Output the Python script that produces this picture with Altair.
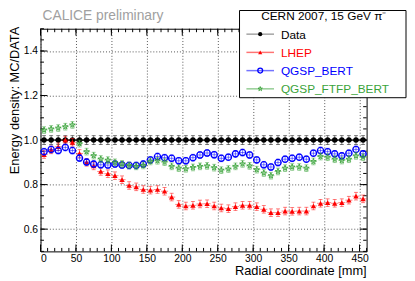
import altair as alt
import pandas as pd

FONT = "Liberation Sans"
W, H = 331, 226
X_DOM = [0, 460]
Y_DOM = [0.5, 1.5]

# ---------------- data ----------------
radius = [5, 15, 25, 35, 45, 55, 65, 75, 85, 95, 105, 115, 125, 135, 145, 155,
          165, 175, 185, 195, 205, 215, 225, 235, 245, 255, 265, 275, 285, 295,
          305, 315, 325, 335, 345, 355, 365, 375, 385, 395, 405, 415, 425, 435,
          445, 455]

data_ratio = [1.0] * 46

lhep = [0.935, 0.956, 0.970, 1.000, 0.990, 0.940, 0.900, 0.884, 0.859, 0.849,
        0.840, 0.822, 0.796, 0.790, 0.778, 0.775, 0.778, 0.770, 0.744, 0.711,
        0.704, 0.707, 0.713, 0.714, 0.704, 0.695, 0.692, 0.701, 0.707, 0.707,
        0.701, 0.689, 0.674, 0.674, 0.681, 0.680, 0.681, 0.681, 0.704, 0.716,
        0.719, 0.716, 0.719, 0.730, 0.748, 0.736]

qgsp_bert = [0.948, 0.958, 0.953, 0.967, 0.953, 0.919, 0.901, 0.892, 0.889, 0.888,
             0.892, 0.888, 0.886, 0.886, 0.892, 0.911, 0.926, 0.921, 0.918, 0.907,
             0.907, 0.921, 0.933, 0.942, 0.934, 0.918, 0.923, 0.938, 0.944, 0.933,
             0.911, 0.889, 0.879, 0.899, 0.914, 0.918, 0.923, 0.914, 0.941, 0.953,
             0.948, 0.938, 0.929, 0.941, 0.958, 0.938]

qgsp_ftfp_bert = [1.045, 1.050, 1.054, 1.060, 1.068, 0.984, 0.948, 0.930, 0.915, 0.910,
                  0.900, 0.893, 0.886, 0.882, 0.886, 0.904, 0.907, 0.901, 0.882, 0.874,
                  0.871, 0.877, 0.882, 0.884, 0.876, 0.865, 0.870, 0.882, 0.893, 0.884,
                  0.867, 0.852, 0.840, 0.859, 0.874, 0.879, 0.879, 0.874, 0.904, 0.926,
                  0.923, 0.914, 0.908, 0.914, 0.929, 0.923]

series_names = ["Data", "LHEP", "QGSP_BERT", "QGSP_FTFP_BERT"]
series_values = [data_ratio, lhep, qgsp_bert, qgsp_ftfp_bert]
series_errors = [0.02, 0.017, 0.015, 0.015]
series_colors = ["#000000", "#ff0000", "#0000ff", "#3aa33a"]

x_label_values = [0, 50, 100, 150, 200, 250, 300, 350, 400, 450]
y_label_values = [0.6, 0.8, 1.0, 1.2, 1.4]
x_minor_ticks = list(range(0, 461, 10))
y_minor_ticks = [0.5, 0.55, 0.6, 0.65, 0.7, 0.75, 0.8, 0.85, 0.9, 0.95, 1.0,
                 1.05, 1.1, 1.15, 1.2, 1.25, 1.3, 1.35, 1.4, 1.45, 1.5]

title_text = "CALICE preliminary"
legend_title = "CERN 2007, 15 GeV \u03c0\u207b"
x_title = "Radial coordinate [mm]"
y_title = "Energy density: MC/DATA"

STAR = ("M0,-1L0.2245,-0.309L0.951,-0.309L0.363,0.118L0.588,0.809L0,0.382"
        "L-0.588,0.809L-0.363,0.118L-0.951,-0.309L-0.2245,-0.309Z")

marker_styles = {
    "Data": dict(shape="circle", filled=True, size=30, strokeWidth=1),
    "LHEP": dict(shape="triangle-up", filled=True, size=30, strokeWidth=1),
    "QGSP_BERT": dict(shape="circle", filled=False, size=40, strokeWidth=1.3),
    "QGSP_FTFP_BERT": dict(shape=STAR, filled=False, size=36, strokeWidth=0.9),
}


def xs():
    return alt.Scale(domain=X_DOM, nice=False, zero=False)


def ys():
    return alt.Scale(domain=Y_DOM, nice=False, zero=False)


frames = []
for name, vals, err in zip(series_names, series_values, series_errors):
    f = pd.DataFrame({"series": name, "x": radius, "y": vals})
    f["lo"] = f["y"] - err
    f["hi"] = f["y"] + err
    f["xlo"] = f["x"] - 5
    f["xhi"] = f["x"] + 5
    frames.append(f)
df = pd.concat(frames, ignore_index=True)

layers = []

# ---- axes / grid carrier (invisible) ----
axis_common = dict(grid=True, gridDash=[1, 2], gridColor="#555555", gridWidth=1,
                   ticks=False, domain=False, labelFont=FONT, labelFontSize=10.5,
                   labelColor="black", title=None)
grid_layer = alt.Chart(df).mark_point(opacity=0).encode(
    x=alt.X("x:Q", scale=xs(),
            axis=alt.Axis(values=x_label_values, format="d", labelPadding=2, **axis_common)),
    y=alt.Y("y:Q", scale=ys(),
            axis=alt.Axis(values=y_label_values, format=".1f", labelPadding=3, **axis_common)),
)
layers.append(grid_layer)

# ---- inner ticks on all four sides ----
xmaj = pd.DataFrame({"v": x_label_values})
xmin = pd.DataFrame({"v": x_minor_ticks})
ymaj = pd.DataFrame({"v": y_label_values})
ymin = pd.DataFrame({"v": y_minor_ticks})
for d, L in ((xmaj, 7), (xmin, 3.5)):
    for y0, y1 in ((H, H - L), (0, L)):
        layers.append(alt.Chart(d).mark_rule(color="black", strokeWidth=1).encode(
            x=alt.X("v:Q", scale=xs(), axis=None), y=alt.value(y0), y2=alt.value(y1)))
for d, L in ((ymaj, 7), (ymin, 3.5)):
    for x0, x1 in ((0, L), (W, W - L)):
        layers.append(alt.Chart(d).mark_rule(color="black", strokeWidth=1).encode(
            y=alt.Y("v:Q", scale=ys(), axis=None), x=alt.value(x0), x2=alt.value(x1)))

# ---- series ----
for name, col in zip(series_names, series_colors):
    base = alt.Chart(df).transform_filter(alt.datum.series == name)
    is_data = name == "Data"
    layers.append(base.mark_rule(color=col, opacity=0.5, strokeWidth=1).encode(
        x=alt.X("x:Q", scale=xs(), axis=None),
        y=alt.Y("lo:Q", scale=ys(), axis=None), y2="hi:Q"))
    for fld in ("lo", "hi"):
        layers.append(base.mark_tick(color=col, opacity=0.5, orient="horizontal",
                                     size=4, thickness=1).encode(
            x=alt.X("x:Q", scale=xs(), axis=None),
            y=alt.Y(f"{fld}:Q", scale=ys(), axis=None)))
    layers.append(base.mark_rule(color=col, opacity=1.0 if is_data else 0.5,
                                 strokeWidth=1.6 if is_data else 1).encode(
        x=alt.X("xlo:Q", scale=xs(), axis=None), x2="xhi:Q",
        y=alt.Y("y:Q", scale=ys(), axis=None)))
    st = marker_styles[name]
    layers.append(base.mark_point(color=col, opacity=1, **st).encode(
        x=alt.X("x:Q", scale=xs(), axis=None),
        y=alt.Y("y:Q", scale=ys(), axis=None)))

# ---- titles ----
layers.append(alt.Chart(pd.DataFrame({"t": [title_text]})).mark_text(
    align="left", baseline="alphabetic", font=FONT, fontSize=14, color="#a0a0a0").encode(
    x=alt.value(2), y=alt.value(-8.7), text="t:N"))
layers.append(alt.Chart(pd.DataFrame({"t": [x_title]})).mark_text(
    align="right", baseline="alphabetic", font=FONT, fontSize=13, color="black").encode(
    x=alt.value(W), y=alt.value(250), text="t:N"))
layers.append(alt.Chart(pd.DataFrame({"t": [y_title]})).mark_text(
    align="right", baseline="alphabetic", angle=270, font=FONT, fontSize=13,
    color="black").encode(x=alt.value(-22), y=alt.value(-2), text="t:N"))

# ---- legend (manual) ----
LX0, LX1, LY0, LY1 = 202, 371, -18.5, 70
layers.append(alt.Chart(pd.DataFrame({"t": [legend_title]})).mark_rect(
    fill="white", stroke="black", strokeWidth=1).encode(
    x=alt.value(LX0), x2=alt.value(LX1), y=alt.value(LY0), y2=alt.value(LY1)))
layers.append(alt.Chart(pd.DataFrame({"t": [legend_title]})).mark_text(
    align="center", baseline="alphabetic", font=FONT, fontSize=12, color="black").encode(
    x=alt.value((LX0 + LX1) / 2 + 1), y=alt.value(-8.5), text="t:N"))
for i, (name, col) in enumerate(zip(series_names, series_colors)):
    cy = 5.5 + i * 18.5
    one = alt.Chart(pd.DataFrame({"name": [name]}))
    line_col = "#555555" if name == "Data" else col
    layers.append(one.mark_rule(color=line_col, opacity=0.55, strokeWidth=1.5).encode(
        x=alt.value(209), x2=alt.value(237), y=alt.value(cy)))
    st = dict(marker_styles[name])
    st["size"] = st["size"] * 0.6
    layers.append(one.mark_point(color=col, opacity=1, **st).encode(
        x=alt.value(223), y=alt.value(cy)))
    layers.append(one.mark_text(align="left", baseline="middle", font=FONT, fontSize=12,
                                color=col).encode(
        x=alt.value(244), y=alt.value(cy + 0.5), text="name:N"))

chart = alt.layer(*layers).resolve_axis(x="independent", y="independent").properties(
    width=W, height=H,
    padding={"left": 33, "top": 19, "right": 41, "bottom": 28},
    autosize=alt.AutoSizeParams(type="none"),
    background="white",
).configure_view(stroke="black", strokeWidth=1)

chart.save("out.html", embed_options={"renderer": "svg", "actions": False})
